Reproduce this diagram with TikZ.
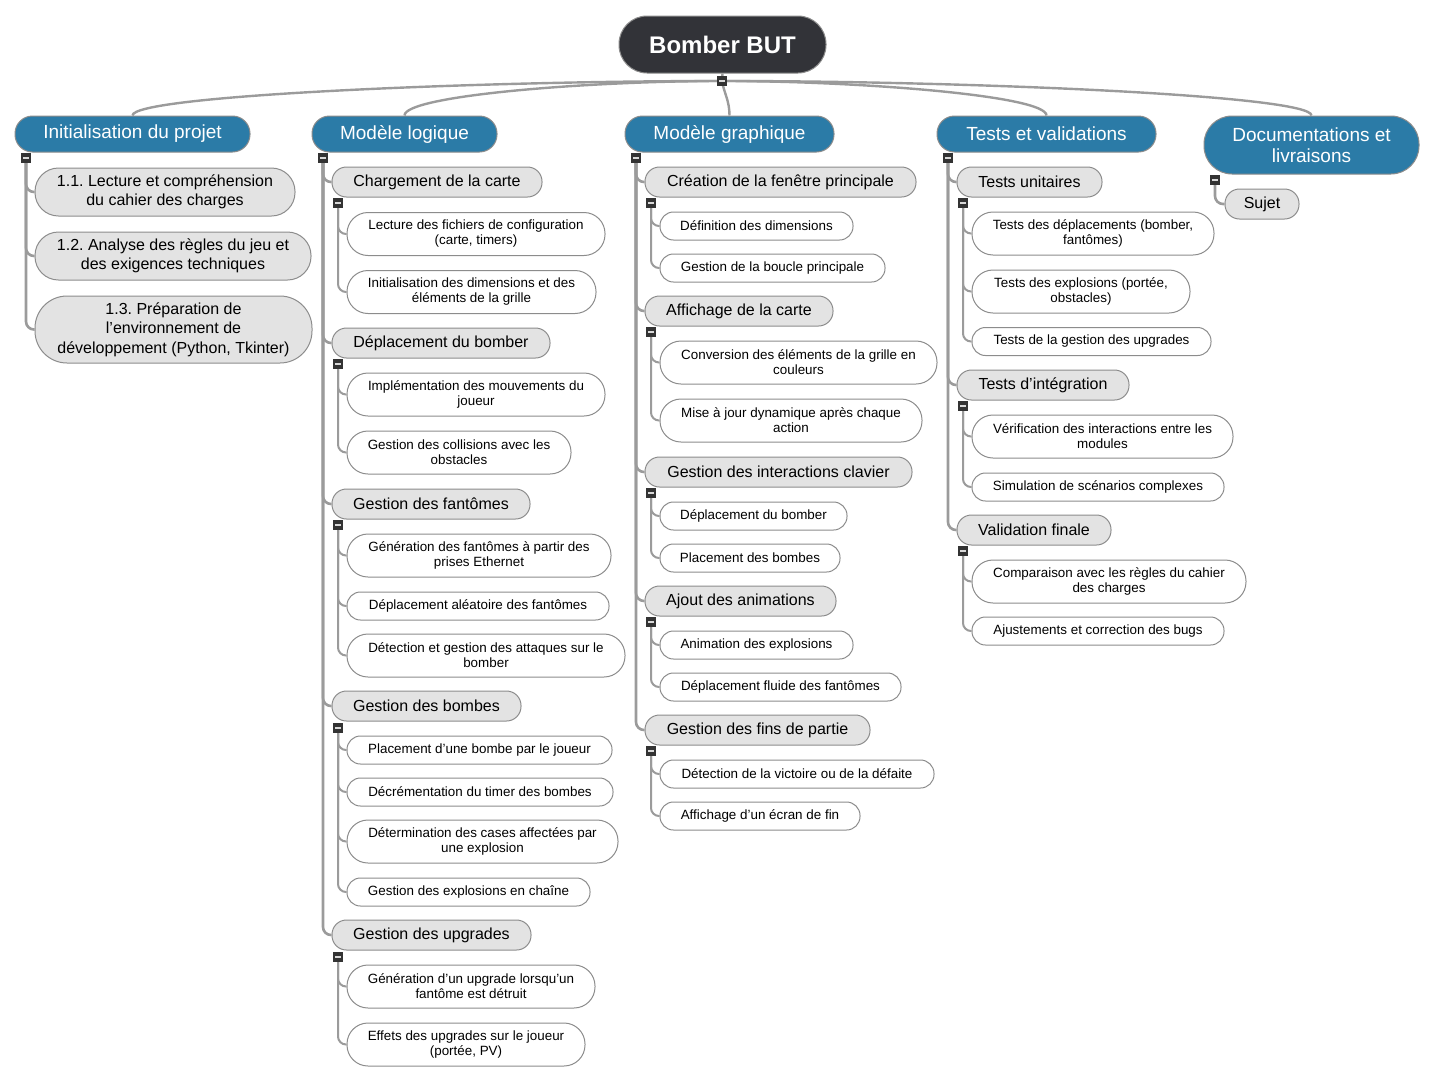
\documentclass[tikz,border=0pt]{standalone}
\usepackage{fontspec}
\setmainfont{Liberation Sans}
\usepackage{xcolor}
\usepackage{tikz}
\definecolor{rootfill}{HTML}{323338}
\definecolor{topicblue}{HTML}{2B7BA7}
\definecolor{subgray}{HTML}{E3E3E3}
\definecolor{boxline}{HTML}{8C8C8C}
\definecolor{linegray}{HTML}{9B9B9B}
\definecolor{markdark}{HTML}{333333}
\frenchspacing

\begin{document}
\begin{tikzpicture}[x=1pt,y=-1pt,
    rootbox/.style={draw=boxline,line width=1pt,fill=rootfill,text=white,font=\fontsize{24}{28}\selectfont\bfseries,rounded corners=28pt,minimum height=57pt,inner sep=0pt},
    topic/.style={draw=boxline,line width=1pt,fill=topicblue,text=white,font=\fontsize{19}{21}\selectfont,rounded corners=17.5pt,minimum height=36pt,align=center,inner sep=0pt},
    subtopic/.style={draw=boxline,line width=1pt,fill=subgray,font=\fontsize{16}{19.5}\selectfont,rounded corners=14.5pt,minimum height=30pt,align=center,inner sep=0pt},
    leaf/.style={draw=boxline,line width=1pt,fill=white,font=\fontsize{13.4}{15}\selectfont,rounded corners=13.5pt,minimum height=28pt,align=center,inner sep=0pt},
    leaftwo/.style={leaf,rounded corners=21pt,minimum height=43pt},
    toggle/.style={fill=markdark,draw=markdark,minimum size=9pt,inner sep=0pt,
      path picture={\draw[white!85!black,line width=1.6pt] ([xshift=-2.6pt]path picture bounding box.center) -- ([xshift=2.6pt]path picture bounding box.center);}},
    trunk/.style={draw=linegray,line width=2.4pt},
    branch/.style={draw=linegray,line width=2.6pt,rounded corners=8pt},
    twig/.style={draw=linegray,line width=2pt,rounded corners=8pt}]
  \useasboundingbox (0,0) rectangle (1434,1082);

  % root and main topics
  \node[rootbox,minimum width=207pt] (root) at (722.5,44.5) {Bomber BUT};
  \node[topic,minimum width=235pt] (init) at (132.5,134) {Initialisation du projet};
  \node[topic,minimum width=185pt] (logic) at (404.5,134) {Modèle logique};
  \node[topic,minimum width=209pt] (graph) at (729.5,134) {Modèle graphique};
  \node[topic,minimum width=219pt] (tests) at (1046.5,134) {Tests et validations};
  \node[topic,minimum width=215pt,minimum height=58pt,rounded corners=28pt] (docs) at (1311.5,145) {Documentations et\\livraisons};

  % initialisation
  \node[subtopic,minimum width=260pt,minimum height=48pt,rounded corners=23.5pt] (init1) at (165,192) {1.1. Lecture et compréhension\\du cahier des charges};
  \node[subtopic,minimum width=276pt,minimum height=48pt,rounded corners=23.5pt] (init2) at (173,256) {1.2. Analyse des règles du jeu et\\des exigences techniques};
  \node[subtopic,minimum width=277pt,minimum height=67pt,rounded corners=32pt] (init3) at (173.5,329.5) {1.3. Préparation de\\l’environnement de\\développement (Python, Tkinter)};

  % modele logique
  \node[subtopic,minimum width=210pt] (logic1) at (437,182) {Chargement de la carte};
  \node[leaftwo,minimum width=258pt] (logic1a) at (476,234) {Lecture des fichiers de configuration\\(carte, timers)};
  \node[leaftwo,minimum width=249pt] (logic1b) at (471.5,292) {Initialisation des dimensions et des\\éléments de la grille};
  \node[subtopic,minimum width=218pt] (logic2) at (441,343) {Déplacement du bomber};
  \node[leaftwo,minimum width=258pt] (logic2a) at (476,394.5) {Implémentation des mouvements du\\joueur};
  \node[leaftwo,minimum width=224pt] (logic2b) at (459,452.5) {Gestion des collisions avec les\\obstacles};
  \node[subtopic,minimum width=198pt] (logic3) at (431,504) {Gestion des fantômes};
  \node[leaftwo,minimum width=264pt] (logic3a) at (479,555.5) {Génération des fantômes à partir des\\prises Ethernet};
  \node[leaf,minimum width=262pt] (logic3b) at (478,606) {Déplacement aléatoire des fantômes};
  \node[leaftwo,minimum width=278pt] (logic3c) at (486,655.5) {Détection et gestion des attaques sur le\\bomber};
  \node[subtopic,minimum width=189pt] (logic4) at (426.5,706) {Gestion des bombes};
  \node[leaf,minimum width=265pt] (logic4a) at (479.5,750) {Placement d’une bombe par le joueur};
  \node[leaf,minimum width=266pt] (logic4b) at (480,792) {Décrémentation du timer des bombes};
  \node[leaftwo,minimum width=271pt] (logic4c) at (482.5,841.5) {Détermination des cases affectées par\\une explosion};
  \node[leaf,minimum width=243pt] (logic4d) at (468.5,892) {Gestion des explosions en chaîne};
  \node[subtopic,minimum width=199pt] (logic5) at (431.5,935) {Gestion des upgrades};
  \node[leaftwo,minimum width=248pt] (logic5a) at (471,986.5) {Génération d’un upgrade lorsqu’un\\fantôme est détruit};
  \node[leaftwo,minimum width=238pt] (logic5b) at (466,1044.5) {Effets des upgrades sur le joueur\\(portée, PV)};

  % modele graphique
  \node[subtopic,minimum width=271pt] (graph1) at (780.5,182) {Création de la fenêtre principale};
  \node[leaf,minimum width=193pt] (graph1a) at (756.5,226) {Définition des dimensions};
  \node[leaf,minimum width=225pt] (graph1b) at (772.5,268) {Gestion de la boucle principale};
  \node[subtopic,minimum width=188pt] (graph2) at (739,311) {Affichage de la carte};
  \node[leaftwo,minimum width=277pt] (graph2a) at (798.5,362.5) {Conversion des éléments de la grille en\\couleurs};
  \node[leaftwo,minimum width=262pt] (graph2b) at (791,420.5) {Mise à jour dynamique après chaque\\action};
  \node[subtopic,minimum width=267pt] (graph3) at (778.5,472) {Gestion des interactions clavier};
  \node[leaf,minimum width=187pt] (graph3a) at (753.5,516) {Déplacement du bomber};
  \node[leaf,minimum width=180pt] (graph3b) at (750,558) {Placement des bombes};
  \node[subtopic,minimum width=191pt] (graph4) at (740.5,601) {Ajout des animations};
  \node[leaf,minimum width=193pt] (graph4a) at (756.5,645) {Animation des explosions};
  \node[leaf,minimum width=241pt] (graph4b) at (780.5,687) {Déplacement fluide des fantômes};
  \node[subtopic,minimum width=225pt] (graph5) at (757.5,730) {Gestion des fins de partie};
  \node[leaf,minimum width=274pt] (graph5a) at (797,774) {Détection de la victoire ou de la défaite};
  \node[leaf,minimum width=200pt] (graph5b) at (760,816) {Affichage d’un écran de fin};

  % tests
  \node[subtopic,minimum width=145pt] (tests1) at (1029.5,182) {Tests unitaires};
  \node[leaftwo,minimum width=242pt] (tests1a) at (1093,233.5) {Tests des déplacements (bomber,\\fantômes)};
  \node[leaftwo,minimum width=218pt] (tests1b) at (1081,291.5) {Tests des explosions (portée,\\obstacles)};
  \node[leaf,minimum width=239pt] (tests1c) at (1091.5,341.5) {Tests de la gestion des upgrades};
  \node[subtopic,minimum width=172pt] (tests2) at (1043,385) {Tests d’intégration};
  \node[leaftwo,minimum width=261pt] (tests2a) at (1102.5,436.5) {Vérification des interactions entre les\\modules};
  \node[leaf,minimum width=252pt] (tests2b) at (1098,487) {Simulation de scénarios complexes};
  \node[subtopic,minimum width=154pt] (tests3) at (1034,530) {Validation finale};
  \node[leaftwo,minimum width=274pt] (tests3a) at (1109,581.5) {Comparaison avec les règles du cahier\\des charges};
  \node[leaf,minimum width=252pt] (tests3b) at (1098,631) {Ajustements et correction des bugs};

  % documentations
  \node[subtopic,minimum width=74pt] (docs1) at (1262,204) {Sujet};

  % toggles
  \coordinate (mroot) at (722,81);
  \coordinate (minit) at (26,158);
  \coordinate (mlogic) at (323,158);
  \coordinate (mgraph) at (636,158);
  \coordinate (mtests) at (948,158);
  \coordinate (mdocs) at (1215,180);
  \coordinate (mlogic1) at (338,203);
  \coordinate (mlogic2) at (338,364);
  \coordinate (mlogic3) at (338,525);
  \coordinate (mlogic4) at (338,728);
  \coordinate (mlogic5) at (338,957);
  \coordinate (mgraph1) at (651,203);
  \coordinate (mgraph2) at (651,332);
  \coordinate (mgraph3) at (651,493);
  \coordinate (mgraph4) at (651,622);
  \coordinate (mgraph5) at (651,751);
  \coordinate (mtests1) at (963,203);
  \coordinate (mtests2) at (963,406);
  \coordinate (mtests3) at (963,551);

  % connectors from the root
  \draw[trunk] (root.south) -- (mroot);
  \draw[trunk] (mroot) .. controls +(-247,0) and +(0,-20) .. (init.north);
  \draw[trunk] (mroot) .. controls +(-133,0) and +(0,-20) .. (logic.north);
  \draw[trunk] (mroot) .. controls +(2,12) and +(0,-15) .. (graph.north);
  \draw[trunk] (mroot) .. controls +(136,0) and +(0,-20) .. (tests.north);
  \draw[trunk] (mroot) .. controls +(247,0) and +(0,-20) .. (docs.north);

  % connectors to the subtopics
  \foreach \c in {init1,init2,init3} \draw[branch] (minit) |- (\c.west);
  \foreach \c in {logic1,logic2,logic3,logic4,logic5} \draw[branch] (mlogic) |- (\c.west);
  \foreach \c in {graph1,graph2,graph3,graph4,graph5} \draw[branch] (mgraph) |- (\c.west);
  \foreach \c in {tests1,tests2,tests3} \draw[branch] (mtests) |- (\c.west);
  \draw[branch] (mdocs) |- (docs1.west);

  % connectors to the leaves
  \foreach \c in {logic1a,logic1b} \draw[twig] (mlogic1) |- (\c.west);
  \foreach \c in {logic2a,logic2b} \draw[twig] (mlogic2) |- (\c.west);
  \foreach \c in {logic3a,logic3b,logic3c} \draw[twig] (mlogic3) |- (\c.west);
  \foreach \c in {logic4a,logic4b,logic4c,logic4d} \draw[twig] (mlogic4) |- (\c.west);
  \foreach \c in {logic5a,logic5b} \draw[twig] (mlogic5) |- (\c.west);
  \foreach \c in {graph1a,graph1b} \draw[twig] (mgraph1) |- (\c.west);
  \foreach \c in {graph2a,graph2b} \draw[twig] (mgraph2) |- (\c.west);
  \foreach \c in {graph3a,graph3b} \draw[twig] (mgraph3) |- (\c.west);
  \foreach \c in {graph4a,graph4b} \draw[twig] (mgraph4) |- (\c.west);
  \foreach \c in {graph5a,graph5b} \draw[twig] (mgraph5) |- (\c.west);
  \foreach \c in {tests1a,tests1b,tests1c} \draw[twig] (mtests1) |- (\c.west);
  \foreach \c in {tests2a,tests2b} \draw[twig] (mtests2) |- (\c.west);
  \foreach \c in {tests3a,tests3b} \draw[twig] (mtests3) |- (\c.west);

  % toggle marks drawn on top
  \foreach \m in {mroot,minit,mlogic,mgraph,mtests,mdocs,mlogic1,mlogic2,mlogic3,mlogic4,mlogic5,mgraph1,mgraph2,mgraph3,mgraph4,mgraph5,mtests1,mtests2,mtests3}
    \node[toggle] at (\m) {};
\end{tikzpicture}
\end{document}
